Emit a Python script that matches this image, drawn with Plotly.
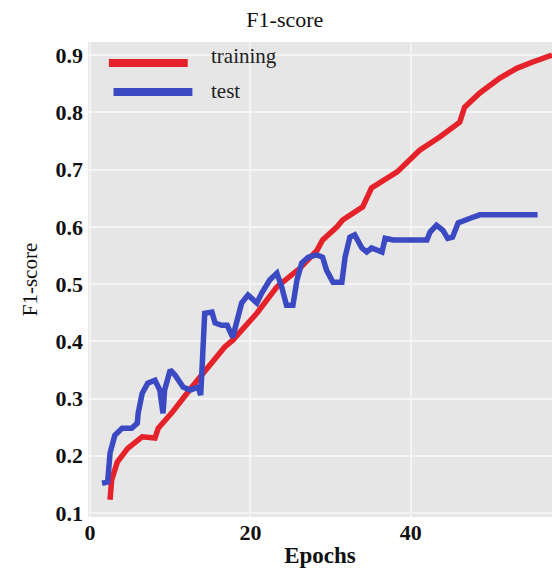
import plotly.graph_objects as go

# ---- data ----
train_epochs = [2.5, 2.7, 3.4, 4.7, 6.5, 8.1, 8.5, 10.2, 12.7, 14.7, 16.8, 17.8, 20.8, 23.3,
                26.2, 28.3, 29.0, 30.8, 31.5, 34.0, 35.1, 38.3, 41.1, 43.6, 46.1, 46.7,
                48.6, 51.1, 53.2, 55.2, 57.6]
train_f1 = [0.123, 0.158, 0.189, 0.213, 0.233, 0.231, 0.248, 0.275, 0.320, 0.355, 0.390,
            0.402, 0.449, 0.495, 0.528, 0.559, 0.577, 0.600, 0.612, 0.635, 0.668, 0.696,
            0.734, 0.757, 0.783, 0.809, 0.834, 0.860, 0.877, 0.888, 0.900]

test_epochs = [1.5, 2.2, 2.5, 3.1, 4.0, 5.2, 5.9, 6.0, 6.5, 7.2, 8.1, 8.7, 9.1, 9.3, 10.0,
               10.6, 11.6, 12.5, 13.5, 13.8, 14.0, 14.3, 15.2, 15.6, 16.4, 17.1, 17.8,
               18.3, 18.9, 19.7, 20.8, 21.4, 22.4, 23.3, 23.9, 24.5, 25.3, 25.8, 26.4,
               27.2, 28.3, 29.0, 29.5, 30.3, 31.0, 31.4, 31.8, 32.4, 33.0, 33.9, 34.5,
               35.1, 36.4, 36.8, 37.8, 39.9, 42.0, 42.4, 43.2, 44.0, 44.6, 45.2, 45.9,
               47.4, 48.6, 50.7, 52.7, 54.8, 55.8]
test_f1 = [0.152, 0.154, 0.205, 0.236, 0.248, 0.248, 0.257, 0.274, 0.309, 0.327, 0.332,
           0.315, 0.274, 0.315, 0.350, 0.341, 0.320, 0.315, 0.320, 0.306, 0.362, 0.449,
           0.451, 0.432, 0.428, 0.428, 0.407, 0.432, 0.467, 0.481, 0.467, 0.484, 0.507,
           0.519, 0.495, 0.463, 0.463, 0.507, 0.537, 0.547, 0.551, 0.547, 0.524, 0.503,
           0.503, 0.503, 0.547, 0.582, 0.586, 0.563, 0.556, 0.563, 0.556, 0.580, 0.577,
           0.577, 0.577, 0.591, 0.603, 0.594, 0.580, 0.582, 0.607, 0.615, 0.621, 0.621,
           0.621, 0.622, 0.621]

y_ticks = [0.1, 0.2, 0.3, 0.4, 0.5, 0.6, 0.7, 0.8, 0.9]
y_labels = ["0.1", "0.2", "0.3", "0.4", "0.5", "0.6", "0.7", "0.8", "0.9"]
x_ticks = [0, 20, 40]
x_labels = ["0", "20", "40"]

RED = "#e5212a"
BLUE = "#3b4ac2"
SERIF = "Liberation Serif"

fig = go.Figure()
fig.add_trace(go.Scatter(x=train_epochs, y=train_f1, mode="lines", name="training",
                         line=dict(color=RED, width=5.5), showlegend=False))
fig.add_trace(go.Scatter(x=test_epochs, y=test_f1, mode="lines", name="test",
                         line=dict(color=BLUE, width=5.5), showlegend=False))

# legend drawn as swatches + labels
fig.add_shape(type="line", xref="paper", yref="paper", x0=0.045, x1=0.215, y0=0.956, y1=0.956,
              line=dict(color=RED, width=8))
fig.add_shape(type="line", xref="paper", yref="paper", x0=0.055, x1=0.225, y0=0.895, y1=0.895,
              line=dict(color=BLUE, width=8))
fig.add_annotation(xref="paper", yref="paper", x=0.26, y=0.97, text="training",
                   showarrow=False, xanchor="left", yanchor="middle",
                   font=dict(family=SERIF, size=21, color="#222"))
fig.add_annotation(xref="paper", yref="paper", x=0.26, y=0.897, text="test",
                   showarrow=False, xanchor="left", yanchor="middle",
                   font=dict(family=SERIF, size=21, color="#222"))

fig.update_layout(
    width=552, height=570,
    margin=dict(l=88, r=0, t=42, b=53),
    paper_bgcolor="white",
    plot_bgcolor="#e6e6e6",
    title=dict(text="F1-score", x=0.516, xanchor="center", xref="container",
               y=0.966, yref="container", yanchor="middle",
               font=dict(family=SERIF, size=22, color="#111")),
    xaxis=dict(range=[-0.25, 57.6], tickvals=x_ticks, ticktext=x_labels,
               showgrid=True, gridcolor="#f4f4f4", gridwidth=1.5, zeroline=False,
               showline=False, ticks="",
               tickfont=dict(family=SERIF, size=22, color="#111", weight="bold"),
               title=dict(text="Epochs", standoff=2,
                          font=dict(family=SERIF, size=23, color="#111", weight="bold"))),
    yaxis=dict(range=[0.093, 0.923], tickvals=y_ticks, ticktext=y_labels,
               showgrid=True, gridcolor="#f4f4f4", gridwidth=1.5, zeroline=False,
               showline=False, ticks="", ticklabelstandoff=4,
               tickfont=dict(family=SERIF, size=22, color="#111", weight="bold"),
               title=dict(text="F1-score", standoff=12,
                          font=dict(family=SERIF, size=21, color="#111"))),
)

fig.write_html("out.html")
